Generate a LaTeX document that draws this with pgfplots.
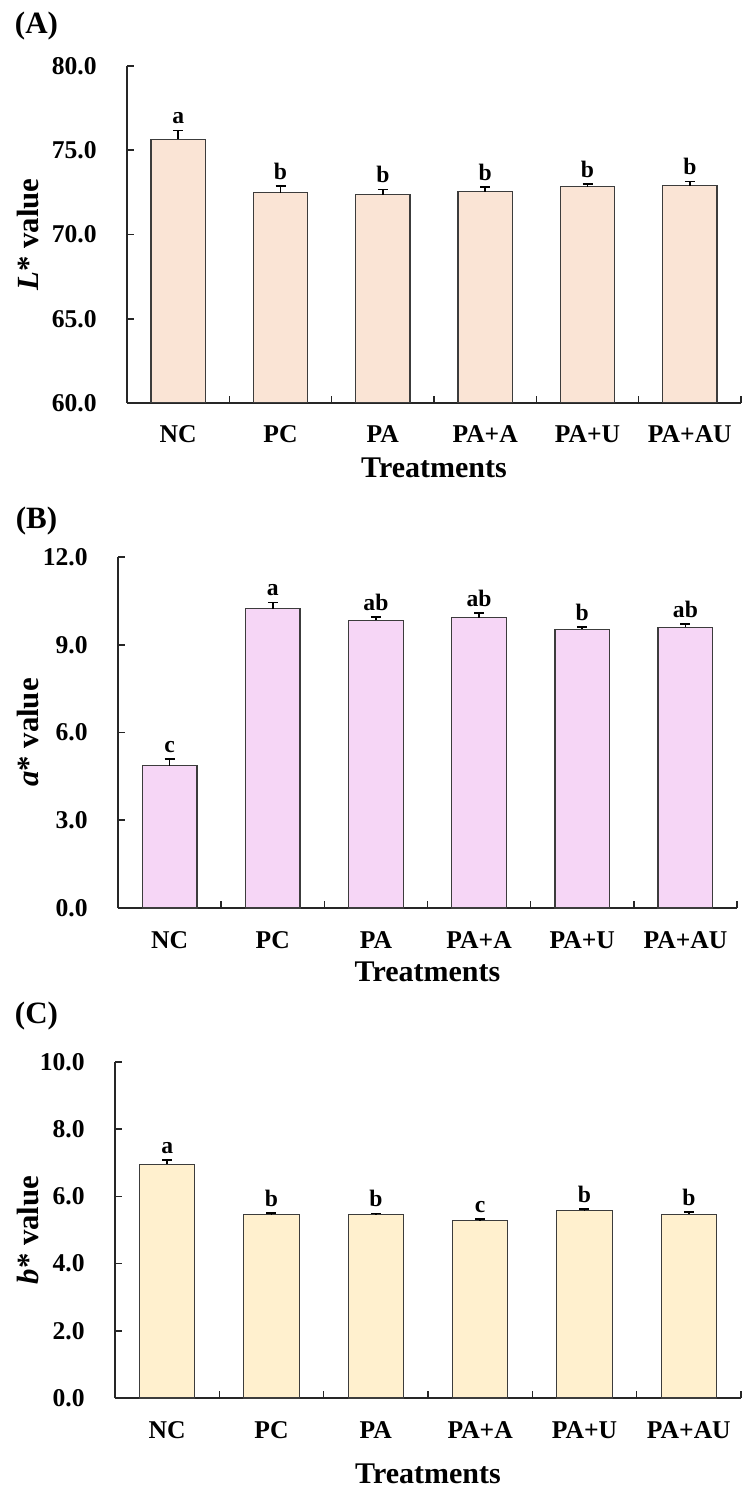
\documentclass[border=0pt]{standalone}
\usepackage{pgfplots}
\pgfplotsset{compat=1.18}
\usepackage{pgfplotstable}
\usepackage{fontspec}
\setmainfont{Liberation Serif}

\definecolor{barA}{RGB}{250,228,213}
\definecolor{barB}{RGB}{246,214,246}
\definecolor{barC}{RGB}{255,240,206}
\definecolor{edge}{RGB}{60,60,60}

\pgfplotstableread{
x y err lab
0 75.65 0.53 a
1 72.49 0.40 b
2 72.35 0.32 b
3 72.53 0.28 b
4 72.83 0.17 b
5 72.89 0.25 b
}\dataA

\pgfplotstableread{
x y err lab
0 4.86 0.24 c
1 10.23 0.22 a
2 9.83 0.11 ab
3 9.93 0.16 ab
4 9.53 0.08 b
5 9.59 0.11 ab
}\dataB

\pgfplotstableread{
x y err lab
0 6.95 0.14 a
1 5.45 0.06 b
2 5.46 0.03 b
3 5.28 0.05 c
4 5.58 0.04 b
5 5.47 0.07 b
}\dataC

\pgfplotsset{
  panel/.style={
    scale only axis,
    anchor=south west,
    xmin=-0.5, xmax=5.5,
    xtick={-0.5,0.5,1.5,2.5,3.5,4.5,5.5},
    x tick label as interval,
    xticklabels={NC,PC,PA,PA+A,PA+U,PA+AU},
    axis x line*=bottom, axis y line*=left,
    axis line style={-, line width=0.9pt, black!85},
    tick align=inside,
    major tick length=3.5pt,
    tick style={line width=0.8pt, black!85},
    /pgf/number format/.cd, fixed, fixed zerofill, precision=1, assume math mode=true,
    /pgfplots/.cd,
    yticklabel style={anchor=east, inner sep=0pt, xshift=-15pt, font=\fontsize{12.8}{15}\selectfont\bfseries},
    xticklabel style={anchor=base, inner sep=0pt, yshift=-20pt, font=\fontsize{12.8}{15}\selectfont\bfseries},
    xlabel={Treatments},
    xlabel style={at={(axis description cs:0.5,0)}, anchor=base, inner sep=0pt, font=\fontsize{15}{18}\selectfont\bfseries},
    ylabel style={anchor=center, inner sep=0pt, font=\fontsize{15.4}{18}\selectfont\bfseries},
  },
  bars/.style={ybar, bar width=0.53, fill=#1, draw=edge, line width=0.6pt,
    error bars/.cd, y dir=plus, y explicit,
    error bar style={line width=0.8pt, black},
    error mark options={rotate=90, mark size=2.5pt, line width=0.8pt, black}},
  letters/.style={draw=none, mark=none, nodes near coords, point meta=explicit symbolic,
    nodes near coords style={anchor=south, inner sep=0pt, yshift=3pt, font=\fontsize{11.8}{14}\selectfont\bfseries, text=black}},
}

\begin{document}
\begin{tikzpicture}
\path[use as bounding box] (0,0) rectangle (373pt,-745.5pt);

\node[font=\fontsize{15.5}{18}\selectfont\bfseries] at (18.25pt,-13pt) {(A)};
\node[font=\fontsize{15.5}{18}\selectfont\bfseries] at (18.25pt,-260.5pt) {(B)};
\node[font=\fontsize{15.5}{18}\selectfont\bfseries] at (18.25pt,-508pt) {(C)};

% Panel A
\begin{axis}[panel, at={(63.5pt,-201.5pt)}, width=307pt, height=168.5pt,
  ymin=60, ymax=80, ytick={60,65,70,75,80},
  xlabel style={yshift=-37.5pt},
  ylabel={\textit{L}* value},
  ylabel style={at={(axis description cs:-0.161,0.5)}}]
\addplot[bars=barA] table[x=x, y=y, y error=err]{\dataA};
\addplot[letters] table[x=x, y expr=\thisrow{y}+\thisrow{err}, meta=lab]{\dataA};
\end{axis}

% Panel B
\begin{axis}[panel, at={(59pt,-454pt)}, width=309.5pt, height=175.5pt,
  ymin=0, ymax=12, ytick={0,3,6,9,12},
  xlabel style={yshift=-36.5pt},
  ylabel={\textit{a}* value},
  ylabel style={at={(axis description cs:-0.145,0.5)}}]
\addplot[bars=barB] table[x=x, y=y, y error=err]{\dataB};
\addplot[letters] table[x=x, y expr=\thisrow{y}+\thisrow{err}, meta=lab]{\dataB};
\end{axis}

% Panel C
\begin{axis}[panel, at={(57.5pt,-699pt)}, width=313pt, height=168pt,
  ymin=0, ymax=10, ytick={0,2,4,6,8,10},
  xlabel style={yshift=-42.5pt},
  ylabel={\textit{b}* value},
  ylabel style={at={(axis description cs:-0.139,0.5)}}]
\addplot[bars=barC] table[x=x, y=y, y error=err]{\dataC};
\addplot[letters] table[x=x, y expr=\thisrow{y}+\thisrow{err}, meta=lab]{\dataC};
\end{axis}
\end{tikzpicture}
\end{document}
